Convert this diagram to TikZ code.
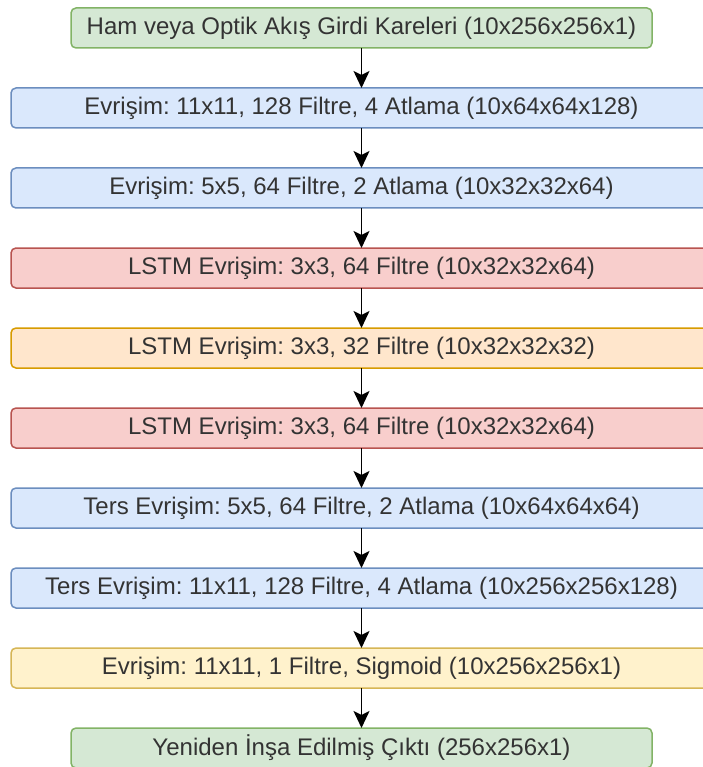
\documentclass[tikz,border=0pt]{standalone}
\usepackage{fontspec}
\setmainfont{Liberation Sans}
\usetikzlibrary{arrows.meta}
\frenchspacing
\definecolor{grnfill}{HTML}{D5E8D4}\definecolor{grnline}{HTML}{82B366}
\definecolor{blufill}{HTML}{DAE8FC}\definecolor{bluline}{HTML}{6C8EBF}
\definecolor{redfill}{HTML}{F8CECC}\definecolor{redline}{HTML}{B85450}
\definecolor{orgfill}{HTML}{FFE6CC}\definecolor{orgline}{HTML}{D79B00}
\definecolor{yelfill}{HTML}{FFF2CC}\definecolor{yelline}{HTML}{D6B656}
\tikzset{
  layer/.style={draw, rounded corners=5pt, line width=1.5pt, inner sep=0pt, outer sep=0pt,
    minimum height=40pt, text=black!80, font=\fontsize{24pt}{26pt}\selectfont\frenchspacing},
  wide/.style={layer, minimum width=701pt},
  narrow/.style={layer, minimum width=581pt},
  green/.style={fill=grnfill, draw=grnline},
  blue/.style={fill=blufill, draw=bluline},
  red/.style={fill=redfill, draw=redline},
  orange/.style={fill=orgfill, draw=orgline},
  yellow/.style={fill=yelfill, draw=yelline},
  flow/.style={line width=1.7pt, -{Stealth[length=17pt, width=16pt, inset=4pt]}}
}
\begin{document}
\begin{tikzpicture}[x=1pt, y=-1pt]
\useasboundingbox (0,0) rectangle (702,767);
\node[narrow, green] (n1) at (361.5,28)  {Ham veya Optik Akış Girdi Kareleri (10x256x256x1)};
\node[wide, blue]    (n2) at (361.5,108) {Evrişim: 11x11, 128 Filtre, 4 Atlama (10x64x64x128)};
\node[wide, blue]    (n3) at (361.5,188) {Evrişim: 5x5, 64 Filtre, 2 Atlama (10x32x32x64)};
\node[wide, red]     (n4) at (361.5,268) {LSTM Evrişim: 3x3, 64 Filtre (10x32x32x64)};
\node[wide, orange]  (n5) at (361.5,348) {LSTM Evrişim: 3x3, 32 Filtre (10x32x32x32)};
\node[wide, red]     (n6) at (361.5,428) {LSTM Evrişim: 3x3, 64 Filtre (10x32x32x64)};
\node[wide, blue]    (n7) at (361.5,508) {Ters Evrişim: 5x5, 64 Filtre, 2 Atlama (10x64x64x64)};
\node[wide, blue]    (n8) at (361.5,588) {Ters Evrişim: 11x11, 128 Filtre, 4 Atlama (10x256x256x128)};
\node[wide, yellow]  (n9) at (361.5,668) {Evrişim: 11x11, 1 Filtre, Sigmoid (10x256x256x1)};
\node[narrow, green] (n10) at (361.5,748) {Yeniden İnşa Edilmiş Çıktı (256x256x1)};
\foreach \a/\b in {n1/n2,n2/n3,n3/n4,n4/n5,n5/n6,n6/n7,n7/n8,n8/n9,n9/n10}
  \draw[flow] (\a.south) -- (\b.north);
\end{tikzpicture}
\end{document}
